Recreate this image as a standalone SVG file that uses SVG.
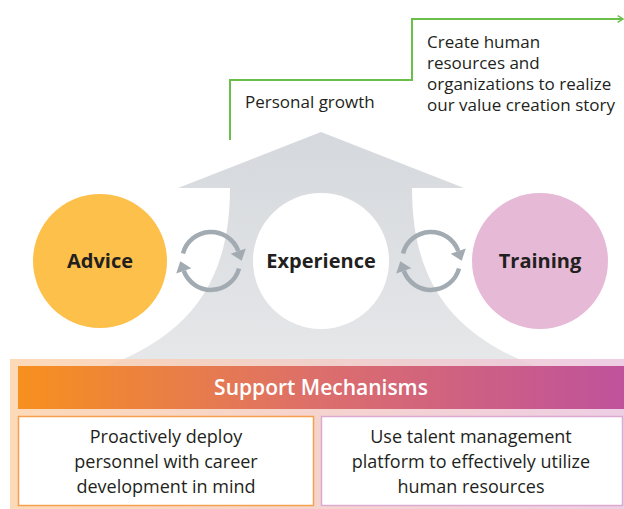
<svg xmlns="http://www.w3.org/2000/svg" width="624" height="509" viewBox="0 0 624 509">
<style>
.t{font-family:"Open Sans","Noto Sans","Liberation Sans",sans-serif;fill:#231f20}
.lab{font-size:17px}
.node{font-size:20px;font-weight:700;text-anchor:middle}
.box{font-size:18px;text-anchor:middle}
.cyc{fill:none;stroke:#a2abb2;stroke-width:4.5}
.cyh{fill:#a2abb2}
</style>
<defs>
<linearGradient id="gArrow" x1="0" y1="0" x2="0" y2="1">
<stop offset="0" stop-color="#d5d8dc"/>
<stop offset="1" stop-color="#e6e8ea"/>
</linearGradient>
<linearGradient id="gOuter" x1="0" y1="0" x2="1" y2="0">
<stop offset="0" stop-color="#fcd3ab"/>
<stop offset="1" stop-color="#ebc5df"/>
</linearGradient>
<linearGradient id="gBand" x1="0" y1="0" x2="1" y2="0">
<stop offset="0" stop-color="#f7901e"/>
<stop offset="0.5" stop-color="#dc6e6c"/>
<stop offset="1" stop-color="#bf529b"/>
</linearGradient>
<marker id="chev" viewBox="0 0 10 12" refX="9" refY="6" markerWidth="7" markerHeight="8" markerUnits="userSpaceOnUse" orient="auto">
<path d="M1,1 L9,6 L1,11" fill="none" stroke="#6abf4b" stroke-width="2"/>
</marker>
<g id="cycle">
<path class="cyc" d="M183,253.5 A29,29 0 0 1 238.3,251.1"/>
<path class="cyh" d="M245.8,248.4 L230.7,253.8 L241.7,260.8 Z"/>
<path class="cyc" d="M239,268.5 A29,29 0 0 1 183.8,270.9"/>
<path class="cyh" d="M176.2,273.6 L191.3,268.2 L180.3,261.2 Z"/>
</g>
</defs>

<g id="growth-arrow">
<path d="M321,132 L464,188 L412,188 C412,290 460,340 546,370 L96,370 C182,340 230,290 230,188 L178,188 Z" fill="url(#gArrow)"/>
</g>

<g id="connectors">
<polyline points="230,140 230,80 412,80 412,19 623,19" fill="none" stroke="#6abf4b" stroke-width="2" marker-end="url(#chev)"/>
<use href="#cycle"/>
<use href="#cycle" transform="translate(220,0)"/>
</g>

<g id="label-personal">
<text class="t lab" x="245" y="108">Personal growth</text>
</g>
<g id="label-create">
<text class="t lab" x="427" y="48">Create human</text>
<text class="t lab" x="427" y="69">resources and</text>
<text class="t lab" x="427" y="90">organizations to realize</text>
<text class="t lab" x="427" y="111">our value creation story</text>
</g>

<g id="node-advice">
<circle cx="100" cy="261" r="67" fill="#fdc04a"/>
<text class="t node" x="100" y="268">Advice</text>
</g>
<g id="node-experience">
<circle cx="321" cy="261" r="68" fill="#ffffff"/>
<text class="t node" x="321" y="268">Experience</text>
</g>
<g id="node-training">
<circle cx="540" cy="261" r="68" fill="#e6b9d7"/>
<text class="t node" x="540" y="268">Training</text>
</g>

<g id="support">
<rect x="10" y="359" width="614" height="150" fill="url(#gOuter)" opacity="0.85"/>
<rect x="18" y="366" width="606" height="43" fill="url(#gBand)"/>
<text x="321" y="395" text-anchor="middle" font-family="'Open Sans','Noto Sans','Liberation Sans',sans-serif" font-size="21" font-weight="600" fill="#ffffff">Support Mechanisms</text>
</g>
<g id="box-deploy">
<rect x="18.5" y="416.5" width="295" height="89" fill="#ffffff" stroke="#f5a04f" stroke-width="1.5"/>
<text class="t box" x="166" y="443">Proactively deploy</text>
<text class="t box" x="166" y="468">personnel with career</text>
<text class="t box" x="166" y="493">development in mind</text>
</g>
<g id="box-platform">
<rect x="321.5" y="416.5" width="301" height="89" fill="#ffffff" stroke="#dcaad1" stroke-width="1.5"/>
<text class="t box" x="471" y="443">Use talent management</text>
<text class="t box" x="471" y="468">platform to effectively utilize</text>
<text class="t box" x="471" y="493">human resources</text>
</g>
</svg>
